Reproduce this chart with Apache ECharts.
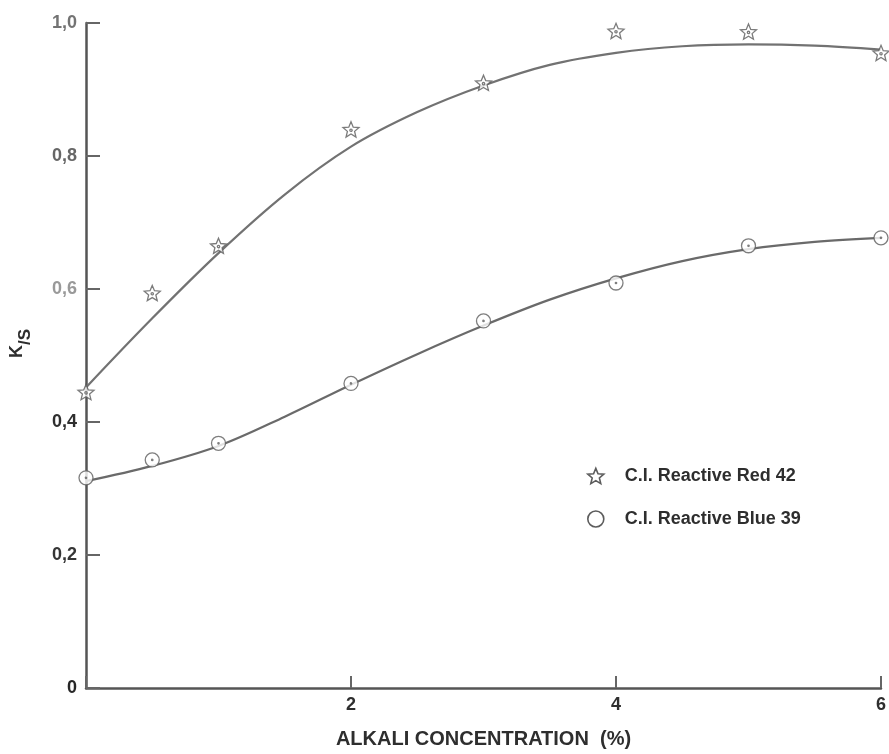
<!DOCTYPE html>
<html>
<head>
<meta charset="utf-8">
<script src="https://cdn.jsdelivr.net/npm/echarts@6/dist/echarts.min.js"></script>
<style>
html,body{margin:0;padding:0;background:#fff;}
#chart{width:889px;height:754px;}
</style>
</head>
<body>
<div id="chart"></div>
<script>
// ---- data ----
const seriesNames = ['C.I. Reactive Red 42', 'C.I. Reactive Blue 39'];
const pointX = [0, 0.5, 1, 2, 3, 4, 5, 6];
const red42 = [0.445, 0.594, 0.665, 0.840, 0.910, 0.988, 0.987, 0.955];
const blue39 = [0.316, 0.343, 0.368, 0.458, 0.552, 0.609, 0.665, 0.677];
// fitted curves as drawn in the reference
const curveX = [0, 0.5, 1, 1.5, 2, 2.5, 3, 3.5, 4, 4.5, 5, 5.5, 6];
const red42Curve = [0.452, 0.556, 0.654, 0.742, 0.814, 0.866, 0.906, 0.937, 0.955, 0.965, 0.968, 0.966, 0.960];
const blue39Curve = [0.311, 0.334, 0.364, 0.408, 0.456, 0.502, 0.545, 0.584, 0.616, 0.642, 0.660, 0.671, 0.677];
const yTickLabels = ['0', '0,2', '0,4', '0,6', '0,8', '1,0'];
const xTickLabels = ['', '2', '4', '6'];

const starPath = 'path://M10 0 L12.65 6.36 L19.51 6.91 L14.28 11.39 L15.88 18.09 L10 14.5 L4.12 18.09 L5.72 11.39 L0.49 6.91 L7.35 6.36 Z M10 8.6 A1.4 1.4 0 1 1 9.99 8.6 Z';
const circleDotPath = 'path://M10 0 A10 10 0 1 1 9.99 0 Z M10 9 A1 1 0 1 1 9.99 9 Z';
const starLegend = 'path://M10 0 L12.65 6.36 L19.51 6.91 L14.28 11.39 L15.88 18.09 L10 14.5 L4.12 18.09 L5.72 11.39 L0.49 6.91 L7.35 6.36 Z';

const FONT = '"Liberation Sans", Arial, sans-serif';
const zip = (xs, ys) => xs.map((x, i) => [x, ys[i]]);

const chart = echarts.init(document.getElementById('chart'), null, {renderer: 'canvas'});
const yColors = ['#262626', '#353535', '#2e2e2e', '#999999', '#666666', '#737373'];
const yRich = {};
yColors.forEach((c, i) => { yRich['c' + i] = {color: c, fontSize: 18, fontWeight: 700, fontFamily: FONT}; });

chart.setOption({
  backgroundColor: '#ffffff',
  animation: false,
  grid: {left: 86, right: 8, top: 23, bottom: 63, containLabel: false},
  legend: {
    orient: 'vertical',
    left: 587, top: 467, padding: 0,
    itemWidth: 16, itemHeight: 16, itemGap: 25,
    textStyle: {fontSize: 18, fontWeight: 700, color: '#2e2e2e', fontFamily: FONT, padding: [0, 0, 0, 16], lineHeight: 16},
    data: [
      {name: seriesNames[0], icon: starLegend, itemStyle: {color: '#fff', borderColor: '#333', borderWidth: 1.6}},
      {name: seriesNames[1], icon: 'circle', itemStyle: {color: '#fff', borderColor: '#333', borderWidth: 1.6}}
    ]
  },
  xAxis: {
    type: 'value', min: 0, max: 6, interval: 2,
    name: 'ALKALI CONCENTRATION  (%)', nameLocation: 'middle', nameGap: 41,
    nameTextStyle: {fontSize: 20, fontWeight: 700, color: '#2e2e2e', fontFamily: FONT},
    axisLine: {show: true, lineStyle: {color: '#555', width: 2.5}},
    axisTick: {show: true, inside: true, length: 12, lineStyle: {color: '#666', width: 2}},
    axisLabel: {margin: 8, fontSize: 18, fontWeight: 700, color: '#2e2e2e', fontFamily: FONT,
      formatter: v => xTickLabels[Math.round(v / 2)]},
    splitLine: {show: false}
  },
  yAxis: {
    type: 'value', min: 0, max: 1, interval: 0.2,
    name: '{a|K}{b|/S}', nameLocation: 'middle', nameGap: 52,
    nameTextStyle: {
      padding: [0, 0, 0, 24],
      rich: {
        a: {fontSize: 18, fontWeight: 700, color: '#2e2e2e', fontFamily: FONT, lineHeight: 20, verticalAlign: 'top'},
        b: {fontSize: 17, fontWeight: 700, color: '#2e2e2e', fontFamily: FONT, lineHeight: 26, verticalAlign: 'bottom'}
      }
    },
    axisLine: {show: true, lineStyle: {color: '#555', width: 2.5}},
    axisTick: {show: true, inside: true, length: 14, lineStyle: {color: '#666', width: 2}},
    axisLabel: {margin: 9, formatter: v => '{c' + Math.round(v / 0.2) + '|' + yTickLabels[Math.round(v / 0.2)] + '}', rich: yRich},
    splitLine: {show: false}
  },
  series: [
    {
      name: 'red42-curve', type: 'line', data: zip(curveX, red42Curve), smooth: 0.35,
      showSymbol: false, lineStyle: {color: '#727272', width: 2.2}, z: 2, silent: true
    },
    {
      name: 'blue39-curve', type: 'line', data: zip(curveX, blue39Curve), smooth: 0.35,
      showSymbol: false, lineStyle: {color: '#6a6a6a', width: 2.2}, z: 2, silent: true
    },
    {
      name: seriesNames[0], type: 'scatter', data: zip(pointX, red42), clip: false,
      symbol: starPath, symbolSize: 16, symbolKeepAspect: true,
      itemStyle: {color: '#fff', borderColor: '#5a5a5a', borderWidth: 1.3}, z: 5
    },
    {
      name: seriesNames[1], type: 'scatter', data: zip(pointX, blue39), clip: false,
      symbol: circleDotPath, symbolSize: 14, symbolKeepAspect: true,
      itemStyle: {color: '#fff', borderColor: '#5e5e5e', borderWidth: 1.3}, z: 5
    }
  ]
});
</script>
</body>
</html>
